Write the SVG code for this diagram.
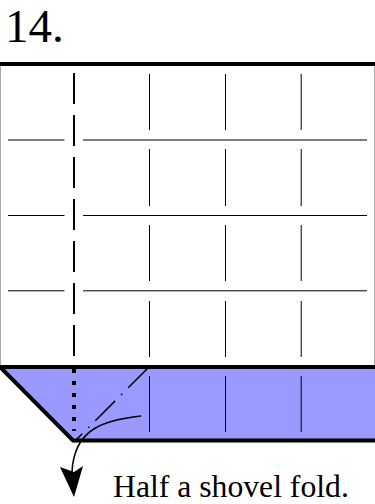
<svg xmlns="http://www.w3.org/2000/svg" width="375" height="504" viewBox="0 0 375 504">
<style>
.crease{stroke:#000;stroke-width:1;fill:none}
.edge{stroke:#000;stroke-width:4;fill:none}
.t{font-family:"Liberation Serif","Times New Roman",serif;fill:#000}
</style>
<rect width="375" height="504" fill="#fff"/>
<g id="paper">
<path d="M0.5 64V368M374.5 64V368" stroke="#aaa" stroke-width="1" fill="none"/>
<polygon id="flap" points="1,368 375,368 375,441 73,441" fill="#9999ff"/>
</g>
<g id="connectors">
<path class="crease" d="M149.500 74V130M149.500 149V206M149.500 225V281M149.500 301V357M149.500 376V432"/>
<path class="crease" d="M225.500 74V130M225.500 149V206M225.500 225V281M225.500 301V357M225.500 376V432"/>
<path class="crease" d="M301.200 74V130M301.200 149V206M301.200 225V281M301.200 301V357M301.200 376V432"/>
<path class="crease" d="M8 140H64.500M83 140H367"/>
<path class="crease" d="M8 215.500H64.500M83 215.500H367"/>
<path class="crease" d="M8 290.800H64.500M83 290.800H367"/>
<path d="M74 73V357" stroke="#000" stroke-width="2" stroke-dasharray="31 11" fill="none"/>
<path d="M74 369V431" stroke="#000" stroke-width="4" stroke-dasharray="4 8" fill="none"/>
<path d="M148 368L74 442" stroke="#000" stroke-width="1.500" stroke-dasharray="28 8.500 1.500 8.500" fill="none"/>
<path d="M141 416C105 420 74 428 72 472" stroke="#000" stroke-width="1.500" fill="none"/>
<polygon points="60,467 74,472 83,466 74,497" fill="#000"/>
</g>
<g id="edges">
<path class="edge" d="M0 64H375M0 367H375"/>
<path class="edge" d="M1 368L73 440.500H375"/>
</g>
<g id="labels">
<text class="t" x="5" y="41.500" font-size="47">14.</text>
<text class="t" x="113" y="496.500" font-size="31.700">Half a shovel fold.</text>
</g>
</svg>
